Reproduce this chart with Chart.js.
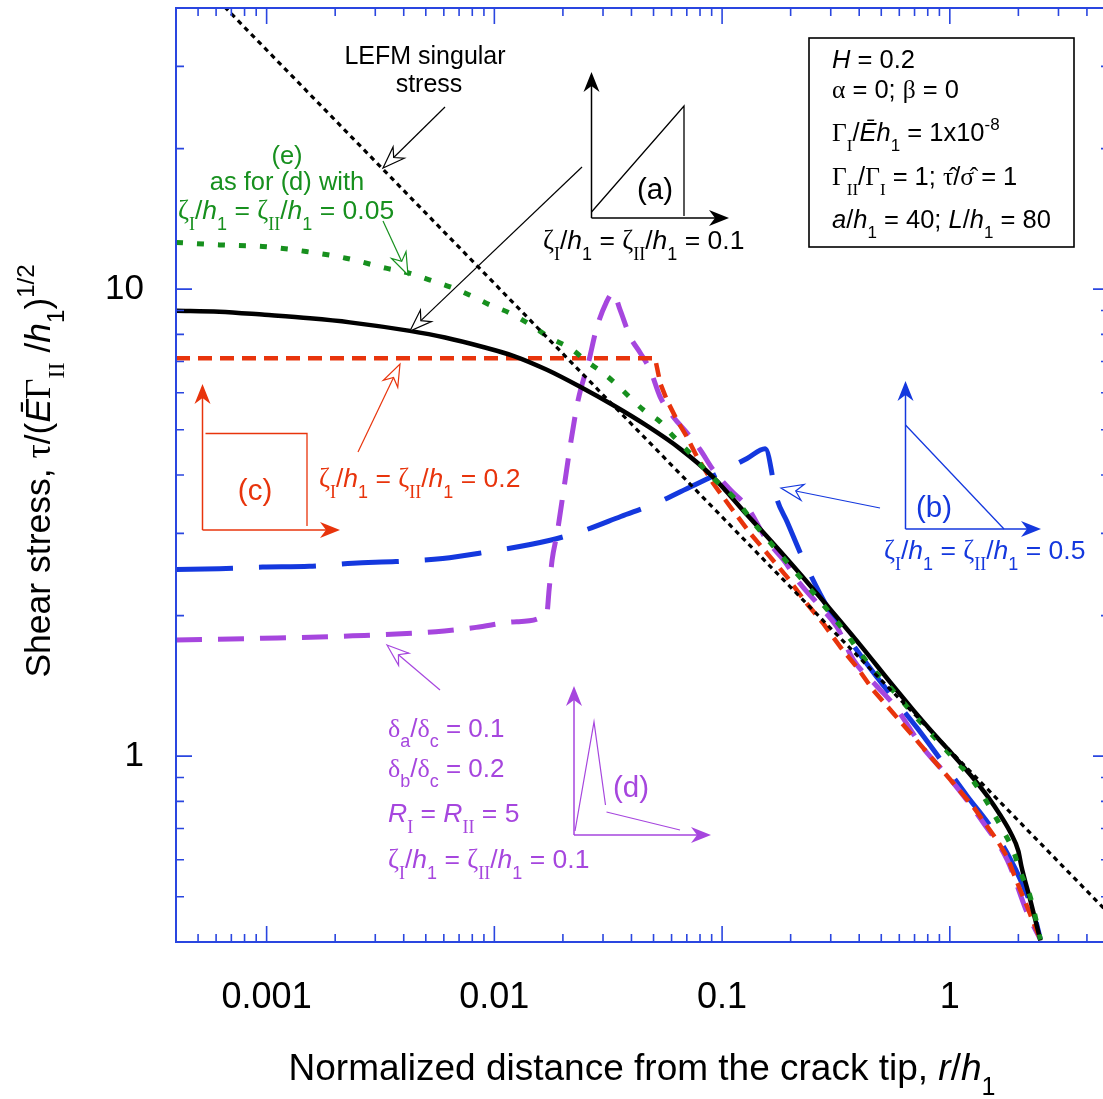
<!DOCTYPE html>
<html>
<head>
<meta charset="utf-8">
<script src="https://cdn.jsdelivr.net/npm/chart.js@4.4.0/dist/chart.umd.min.js"></script>
<style>
  html, body { margin: 0; padding: 0; background: #fff; overflow: hidden; }
</style>
</head>
<body>
<canvas id="shear" width="1112" height="1099"></canvas>
<script>
// tick labels
var xTickValues = [0.001, 0.01, 0.1, 1];
var xTickLabels = ['0.001', '0.01', '0.1', '1'];
var yTickValues = [1, 10];
var yTickLabels = ['1', '10'];

// LEFM singular stress (straight line in log-log)
var rLefm = [0.0005, 5];
var tauLefm = [46, 0.46];

// (a) zeta/h1 = 0.1, triangular law
var rA = [0.0004, 0.00062, 0.00098, 0.00155, 0.00232, 0.00426, 0.00607, 0.00892, 0.0121, 0.0170,
  0.0238, 0.0333, 0.0467, 0.0655, 0.0913, 0.1289, 0.147, 0.2053, 0.2904, 0.4045, 0.5646,
  0.6914, 0.8463, 1.036, 1.268, 1.462, 1.667, 1.844, 2.0, 2.062, 2.258, 2.5];
var tauA = [8.99, 8.95, 8.81, 8.66, 8.49, 8.14, 7.88, 7.52, 7.20, 6.72,
  6.18, 5.64, 5.10, 4.55, 3.96, 3.284, 3.064, 2.554, 2.096, 1.729, 1.413,
  1.255, 1.120, 1.005, 0.897, 0.821, 0.747, 0.687, 0.626, 0.581, 0.491, 0.403];

// (b) zeta/h1 = 0.5
var rB = [0.0004, 0.00062, 0.00096, 0.00154, 0.00239, 0.0037, 0.00593, 0.00859, 0.01757, 0.0251,
  0.0359, 0.0513, 0.0732, 0.1001, 0.1287, 0.1547, 0.1746, 0.1927, 0.2278, 0.2893, 0.3534, 0.4328,
  0.566, 0.7177, 0.9084, 1.19, 1.506, 1.789, 2.11, 2.337, 2.5];
var tauB = [2.51, 2.52, 2.54, 2.55, 2.59, 2.61, 2.65, 2.72, 2.90, 3.05,
  3.26, 3.48, 3.78, 4.07, 4.34, 4.55, 3.54, 3.18, 2.63, 2.09, 1.808, 1.575,
  1.33, 1.15, 0.985, 0.822, 0.708, 0.619, 0.525, 0.461, 0.405];

// (c) zeta/h1 = 0.2, rectangular law
var rC = [0.0004, 0.0508, 0.0535, 0.0572, 0.0633, 0.0700, 0.0775, 0.0913, 0.1086, 0.1329,
  0.1627, 0.1927, 0.2359, 0.279, 0.330, 0.391, 0.461, 0.566, 0.694, 0.849, 1.039, 1.268,
  1.612, 1.789, 1.905, 2.041, 2.191, 2.337, 2.5];
var tauC = [7.11, 7.11, 6.29, 5.79, 5.25, 4.83, 4.38, 3.84, 3.42, 3.00,
  2.67, 2.42, 2.12, 1.92, 1.715, 1.55, 1.385, 1.234, 1.10, 0.980, 0.874, 0.779,
  0.661, 0.608, 0.561, 0.516, 0.475, 0.438, 0.405];

// (d) peaked law, zeta/h1 = 0.1
var rD = [0.0004, 0.00096, 0.00239, 0.00554, 0.00831, 0.01254, 0.01699, 0.01739, 0.01793, 0.01886,
  0.02024, 0.02173, 0.02333, 0.02607, 0.02798, 0.03096, 0.03322, 0.03566, 0.03946, 0.04366,
  0.04831, 0.05346, 0.06098, 0.07024, 0.08013, 0.09139, 0.1086, 0.1289, 0.1573, 0.1862,
  0.2203, 0.2698, 0.3194, 0.3767, 0.4804, 0.566, 0.7648, 1.005, 1.403, 1.789, 2.191, 2.5];
var tauD = [1.773, 1.788, 1.81, 1.847, 1.887, 1.94, 2.02, 2.27, 2.63, 3.00,
  3.77, 4.75, 5.79, 7.06, 8.18, 9.35, 9.82, 9.03, 7.91, 7.31,
  6.72, 5.88, 5.33, 4.92, 4.53, 4.10, 3.72, 3.42, 2.90, 2.63,
  2.34, 2.09, 1.89, 1.61, 1.408, 1.29, 1.04, 0.893, 0.72, 0.599, 0.461, 0.405];

// (e) as (d) with zeta/h1 = 0.05
var rE = [0.0004, 0.00062, 0.00096, 0.00149, 0.00223, 0.00334, 0.00423, 0.00518, 0.00634, 0.00777,
  0.00957, 0.0117, 0.0144, 0.0176, 0.0215, 0.0255, 0.0301, 0.0345, 0.0452, 0.0535,
  0.0592, 0.0724, 0.0913, 0.112, 0.142, 0.174, 0.213, 0.261, 0.342, 0.447,
  0.566, 0.692, 0.846, 1.036, 1.268, 1.723, 1.905, 2.041, 2.258, 2.5];
var tauE = [12.59, 12.44, 12.34, 12.04, 11.65, 11.09, 10.82, 10.47, 10.13, 9.72,
  9.25, 8.89, 8.39, 7.86, 7.48, 7.00, 6.61, 6.24, 5.51, 5.2,
  4.92, 4.45, 3.94, 3.59, 3.10, 2.76, 2.46, 2.19, 1.86, 1.56,
  1.378, 1.230, 1.104, 0.990, 0.884, 0.69, 0.625, 0.565, 0.499, 0.405];

var SANS = '"Liberation Sans", Arial, Helvetica, sans-serif';
var SERIF = '"Liberation Serif", "Times New Roman", serif';
var AXIS = '#2a46e0';
var GREEN = '#17901e';
var RED = '#e8340c';
var BLUE = '#1438de';
var PURPLE = '#a646de';

function pts(xs, ys) {
  return xs.map(function (v, i) { return { x: v, y: ys[i] }; });
}

function series(xs, ys, color, width, dash, smooth) {
  var ds = {
    data: pts(xs, ys),
    borderColor: color,
    borderWidth: width,
    borderDash: dash,
    borderCapStyle: 'butt',
    borderJoinStyle: 'round',
    pointRadius: 0,
    fill: false,
    tension: 0
  };
  if (smooth) ds.cubicInterpolationMode = 'monotone';
  return ds;
}

// rich text: runs of [text, kind]; kind: '' sans, 'i' italic, 'g' serif,
// 'b' sans subscript, 'B' serif subscript, 'p' superscript
function runStyle(kind, size) {
  var small = Math.round(size * 0.68);
  switch (kind) {
    case 'i': return ['italic ' + size + 'px ' + SANS, 0];
    case 'g': return [size + 'px ' + SERIF, 0];
    case 'b': return [small + 'px ' + SANS, size * 0.4];
    case 'B': return [small + 'px ' + SERIF, size * 0.4];
    case 'p': return [small + 'px ' + SANS, -size * 0.45];
    default: return [size + 'px ' + SANS, 0];
  }
}

function drawRich(ctx, runs, x, y, size, color, align) {
  ctx.save();
  ctx.fillStyle = color;
  ctx.textBaseline = 'alphabetic';
  ctx.textAlign = 'left';
  var w = 0;
  runs.forEach(function (r) { ctx.font = runStyle(r[1], size)[0]; w += ctx.measureText(r[0]).width; });
  var cx = align === 'center' ? x - w / 2 : x;
  runs.forEach(function (r) {
    var st = runStyle(r[1], size);
    ctx.font = st[0];
    ctx.fillText(r[0], cx, y + st[1]);
    cx += ctx.measureText(r[0]).width;
  });
  ctx.restore();
}

function zetaRuns(v) {
  return [['ζ', 'g'], ['I', 'B'], ['/', ''], ['h', 'i'], ['1', 'b'], [' = ', ''],
    ['ζ', 'g'], ['II', 'B'], ['/', ''], ['h', 'i'], ['1', 'b'], [' = ' + v, '']];
}

function head(ctx, tx, ty, ang, len, half, notch, fill, stroke) {
  var ux = Math.cos(ang), uy = Math.sin(ang), nx = -uy, ny = ux;
  ctx.beginPath();
  ctx.moveTo(tx, ty);
  ctx.lineTo(tx - ux * len + nx * half, ty - uy * len + ny * half);
  ctx.lineTo(tx - ux * (len - notch), ty - uy * (len - notch));
  ctx.lineTo(tx - ux * len - nx * half, ty - uy * len - ny * half);
  ctx.closePath();
  ctx.fillStyle = fill;
  ctx.fill();
  if (stroke) { ctx.strokeStyle = stroke; ctx.stroke(); }
}

// thin pointer with an open arrowhead
function pointer(ctx, x1, y1, x2, y2, color) {
  var ang = Math.atan2(y2 - y1, x2 - x1);
  ctx.save();
  ctx.strokeStyle = color;
  ctx.lineWidth = 1.2;
  ctx.beginPath();
  ctx.moveTo(x1, y1);
  ctx.lineTo(x2 - Math.cos(ang) * 15, y2 - Math.sin(ang) * 15);
  ctx.stroke();
  head(ctx, x2, y2, ang, 22, 8, 7, '#fff', color);
  ctx.restore();
}

// inset axis with a solid arrowhead
function axisArrow(ctx, x1, y1, x2, y2, color) {
  var ang = Math.atan2(y2 - y1, x2 - x1);
  ctx.save();
  ctx.strokeStyle = color;
  ctx.lineWidth = 1.5;
  ctx.beginPath();
  ctx.moveTo(x1, y1);
  ctx.lineTo(x2 - Math.cos(ang) * 12, y2 - Math.sin(ang) * 12);
  ctx.stroke();
  head(ctx, x2, y2, ang, 20, 8, 6, color, null);
  ctx.restore();
}

function poly(ctx, p, color, width) {
  ctx.save();
  ctx.strokeStyle = color;
  ctx.lineWidth = width;
  ctx.beginPath();
  ctx.moveTo(p[0], p[1]);
  for (var i = 2; i < p.length; i += 2) ctx.lineTo(p[i], p[i + 1]);
  ctx.stroke();
  ctx.restore();
}

// blue frame with inward major/minor ticks on all four sides
var frame = {
  id: 'frame',
  afterDatasetsDraw: function (chart) {
    var ctx = chart.ctx, a = chart.chartArea, x = chart.scales.x, y = chart.scales.y;
    ctx.save();
    ctx.strokeStyle = AXIS;
    ctx.lineWidth = 2;
    ctx.strokeRect(a.left, a.top, a.right - a.left, a.bottom - a.top);
    ctx.lineWidth = 1.6;
    ctx.beginPath();
    for (var d = -4; d <= 1; d++) {
      for (var m = 1; m <= 9; m++) {
        var v = m * Math.pow(10, d);
        var len = m === 1 ? 16 : 8;
        if (v >= x.min && v <= x.max) {
          var px = x.getPixelForValue(v);
          ctx.moveTo(px, a.bottom); ctx.lineTo(px, a.bottom - len);
          ctx.moveTo(px, a.top); ctx.lineTo(px, a.top + len);
        }
        if (v >= y.min && v <= y.max) {
          var py = y.getPixelForValue(v);
          ctx.moveTo(a.left, py); ctx.lineTo(a.left + len, py);
          ctx.moveTo(a.right, py); ctx.lineTo(a.right - len, py);
        }
      }
    }
    ctx.stroke();
    ctx.restore();
  }
};

var notes = {
  id: 'notes',
  afterDraw: function (chart) {
    var ctx = chart.ctx;
    var Z = 26.5, T = 25.5, L = 29.5;

    // axis titles
    drawRich(ctx, [['Normalized distance from the crack tip, ', ''], ['r', 'i'], ['/', ''], ['h', 'i'], ['1', 'b']],
      642, 1080, 37, '#000', 'center');
    ctx.save();
    ctx.translate(50, 471);
    ctx.rotate(-Math.PI / 2);
    drawRich(ctx, [['Shear stress, ', ''], ['τ', 'g'], ['/(', ''], ['Ē', 'i'], ['Γ', 'g'], ['II', 'B'],
      [' /', ''], ['h', 'i'], ['1', 'b'], [')', ''], ['1/2', 'p']], 0, 0, 35.5, '#000', 'center');
    ctx.restore();

    // LEFM
    drawRich(ctx, [['LEFM singular', '']], 425, 64, 25, '#000', 'center');
    drawRich(ctx, [['stress', '']], 429, 92, 25, '#000', 'center');
    pointer(ctx, 445, 107, 383, 168, '#000');

    // (a)
    pointer(ctx, 582, 167, 410, 331, '#000');
    axisArrow(ctx, 591.5, 218, 591.5, 72, '#000');
    axisArrow(ctx, 591.5, 218, 729, 218, '#000');
    poly(ctx, [591.5, 212, 684, 106, 684, 216], '#000', 1.3);
    drawRich(ctx, [['(a)', '']], 655, 199, L, '#000', 'center');
    drawRich(ctx, zetaRuns('0.1'), 543, 249, Z, '#000', 'left');

    // parameter box
    ctx.save();
    ctx.strokeStyle = '#000';
    ctx.lineWidth = 1.6;
    ctx.strokeRect(809, 38, 265, 209);
    ctx.restore();
    drawRich(ctx, [['H', 'i'], [' = 0.2', '']], 832, 68, T, '#000', 'left');
    drawRich(ctx, [['α', 'g'], [' = 0; ', ''], ['β', 'g'], [' = 0', '']], 832, 98, T, '#000', 'left');
    drawRich(ctx, [['Γ', 'g'], ['I', 'B'], ['/', ''], ['Ē', 'i'], ['h', 'i'], ['1', 'b'], [' = 1x10', ''], ['-8', 'p']],
      832, 141, T, '#000', 'left');
    drawRich(ctx, [['Γ', 'g'], ['II', 'B'], ['/', ''], ['Γ', 'g'], ['I', 'B'], [' = 1; ', ''], ['τ\u0302', 'g'], ['/', ''],
      ['σ\u0302', 'g'], [' = 1', '']], 832, 185, T, '#000', 'left');
    drawRich(ctx, [['a', 'i'], ['/', ''], ['h', 'i'], ['1', 'b'], [' = 40; ', ''], ['L', 'i'], ['/', ''], ['h', 'i'],
      ['1', 'b'], [' = 80', '']], 832, 228, T, '#000', 'left');

    // (e)
    drawRich(ctx, [['(e)', '']], 287, 164, T, GREEN, 'center');
    drawRich(ctx, [['as for (d) with', '']], 287, 190, T, GREEN, 'center');
    drawRich(ctx, zetaRuns('0.05'), 178, 219, Z, GREEN, 'left');
    pointer(ctx, 383, 221, 408, 275, GREEN);

    // (c)
    axisArrow(ctx, 202.5, 530, 202.5, 384, RED);
    axisArrow(ctx, 202.5, 530, 340, 530, RED);
    poly(ctx, [205.5, 433.5, 307, 433.5, 307, 526], RED, 1.3);
    drawRich(ctx, [['(c)', '']], 255, 500, L, RED, 'center');
    drawRich(ctx, zetaRuns('0.2'), 319, 487, Z, RED, 'left');
    pointer(ctx, 358, 452, 400, 364, RED);

    // (b)
    axisArrow(ctx, 905.5, 529, 905.5, 381, BLUE);
    axisArrow(ctx, 905.5, 529, 1041, 529, BLUE);
    poly(ctx, [905.5, 425, 1004, 529], BLUE, 1.3);
    drawRich(ctx, [['(b)', '']], 934, 517, L, BLUE, 'center');
    drawRich(ctx, zetaRuns('0.5'), 884, 559, Z, BLUE, 'left');
    pointer(ctx, 880, 508, 781, 488, BLUE);

    // (d)
    axisArrow(ctx, 574, 835, 574, 686, PURPLE);
    axisArrow(ctx, 574, 835, 711, 835, PURPLE);
    poly(ctx, [575, 831, 594, 722, 605.5, 805], PURPLE, 1.2);
    poly(ctx, [606.5, 812, 680, 830], PURPLE, 1.2);
    drawRich(ctx, [['(d)', '']], 631, 797, L, PURPLE, 'center');
    drawRich(ctx, [['δ', 'g'], ['a', 'b'], ['/', ''], ['δ', 'g'], ['c', 'b'], [' = 0.1', '']], 388, 737, 26, PURPLE, 'left');
    drawRich(ctx, [['δ', 'g'], ['b', 'b'], ['/', ''], ['δ', 'g'], ['c', 'b'], [' = 0.2', '']], 388, 777, 26, PURPLE, 'left');
    drawRich(ctx, [['R', 'i'], ['I', 'B'], [' = ', ''], ['R', 'i'], ['II', 'B'], [' = 5', '']], 388, 822, 26.5, PURPLE, 'left');
    drawRich(ctx, zetaRuns('0.1'), 388, 868, Z, PURPLE, 'left');
    pointer(ctx, 440, 690, 387, 645, PURPLE);
  }
};

function tickLabel(values, labels) {
  return function (v) {
    for (var i = 0; i < values.length; i++) {
      if (Math.abs(v / values[i] - 1) < 1e-6) return labels[i];
    }
    return '';
  };
}

var config = {
  type: 'line',
  data: {
    datasets: [
      series(rLefm, tauLefm, '#000', 3.2, [5, 4.5], false),
      series(rE, tauE, GREEN, 5, [7, 14], true),
      series(rA, tauA, '#000', 4.5, [], true),
      series(rC, tauC, RED, 4.5, [14, 8], false),
      series(rD, tauD, PURPLE, 5, [26, 16], true),
      series(rB, tauB, BLUE, 5, [57, 26], true)
    ]
  },
  options: {
    responsive: false,
    animation: false,
    events: [],
    layout: { padding: { left: 0, top: 8, right: 3, bottom: 0 } },
    plugins: { legend: { display: false }, tooltip: { enabled: false } },
    scales: {
      x: {
        type: 'logarithmic',
        min: 0.0004,
        max: 5,
        grid: { display: false },
        border: { display: false },
        afterBuildTicks: function (s) { s.ticks = xTickValues.map(function (v) { return { value: v }; }); },
        ticks: {
          callback: tickLabel(xTickValues, xTickLabels),
          autoSkip: false,
          maxRotation: 0,
          padding: 26,
          color: '#000',
          font: { family: SANS, size: 36 }
        },
        afterFit: function (s) { s.height = 157; s.paddingLeft = 0; s.paddingRight = 0; }
      },
      y: {
        type: 'logarithmic',
        min: 0.4,
        max: 40,
        grid: { display: false },
        border: { display: false },
        afterBuildTicks: function (s) { s.ticks = yTickValues.map(function (v) { return { value: v }; }); },
        ticks: {
          callback: tickLabel(yTickValues, yTickLabels),
          autoSkip: false,
          padding: 24,
          color: '#000',
          font: { family: SANS, size: 35 }
        },
        afterFit: function (s) { s.width = 176; s.paddingTop = 0; s.paddingBottom = 0; }
      }
    }
  },
  plugins: [frame, notes]
};

var ctx = document.getElementById('shear').getContext('2d');
window.shearChart = new Chart(ctx, config);
</script>
</body>
</html>
